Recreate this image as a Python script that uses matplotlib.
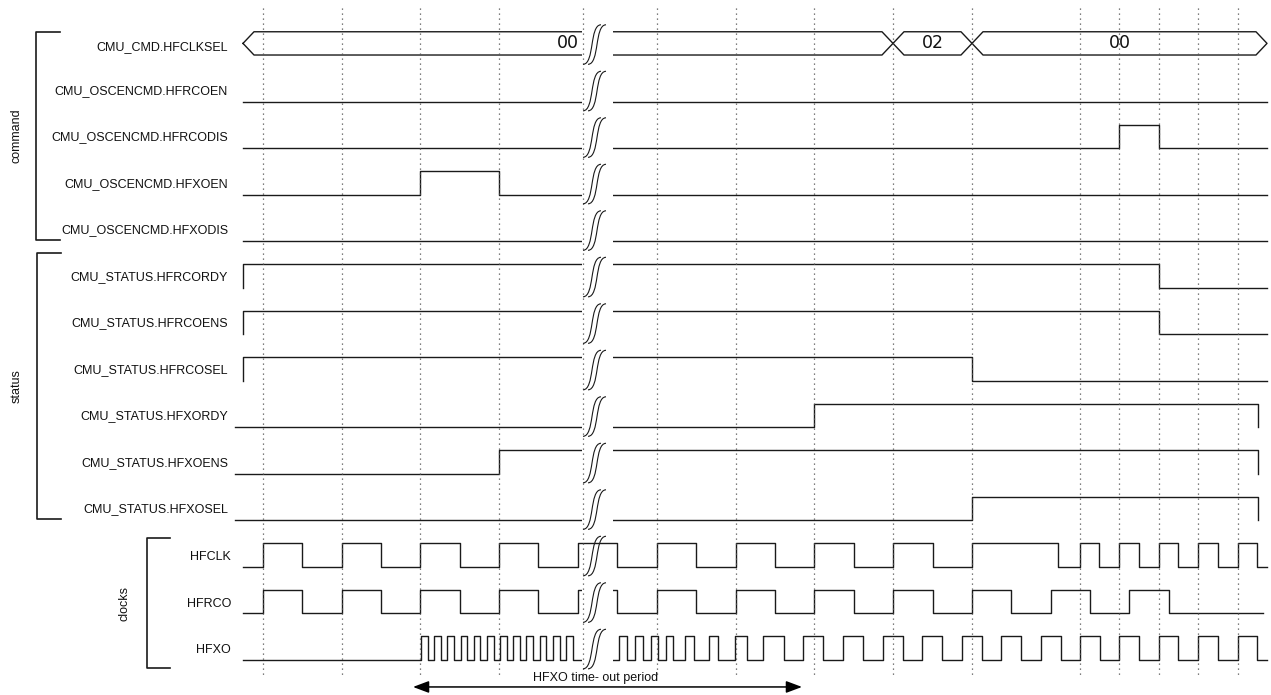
import matplotlib.pyplot as plt
from matplotlib.path import Path
from matplotlib.patches import PathPatch, Rectangle

# ---- data (x = time position, rows top to bottom) ----
bus_label = 'CMU_CMD.HFCLKSEL'
bus_edges = [243, 893, 972, 1267]
bus_values = ['00', '02', '00']

cmd_labels = ['CMU_OSCENCMD.HFRCOEN', 'CMU_OSCENCMD.HFRCODIS',
              'CMU_OSCENCMD.HFXOEN', 'CMU_OSCENCMD.HFXODIS']
cmd_t = [[243, 1267], [243, 1119, 1159, 1267], [243, 420, 499, 1267], [243, 1267]]
cmd_v = [[0, 0], [0, 1, 0, 0], [0, 1, 0, 0], [0, 0]]

status_labels = ['CMU_STATUS.HFRCORDY', 'CMU_STATUS.HFRCOENS', 'CMU_STATUS.HFRCOSEL',
                 'CMU_STATUS.HFXORDY', 'CMU_STATUS.HFXOENS', 'CMU_STATUS.HFXOSEL']
status_t = [[243, 243, 1159, 1267], [243, 243, 1159, 1267], [243, 243, 972, 1267],
            [235, 814, 1258, 1258], [235, 499, 1258, 1258], [235, 972, 1258, 1258]]
status_v = [[0, 1, 0, 0], [0, 1, 0, 0], [0, 1, 0, 0],
            [0, 1, 0, 0], [0, 1, 0, 0], [0, 1, 0, 0]]

clock_labels = ['HFCLK', 'HFRCO', 'HFXO']
hfclk_rise = [263, 342, 420, 499, 578, 657, 736, 814, 893, 972, 1080, 1119, 1159, 1198, 1238]
hfclk_fall = [302, 381, 460, 538, 617, 696, 775, 854, 933, 1058, 1099, 1139, 1178, 1218, 1257]
hfrco_rise = [263, 342, 420, 499, 578, 657, 736, 814, 893, 972, 1051, 1129]
hfrco_fall = [302, 381, 460, 538, 617, 696, 775, 854, 933, 1011, 1090, 1169]
hfxo_rise = [421, 434, 447, 461, 474, 487, 500, 513, 526, 540, 553, 566,
             619, 635, 651, 666, 685, 709, 735, 763, 803, 843, 883, 922, 962,
             1001, 1041, 1080, 1119, 1159, 1198, 1238]
hfxo_fall = [428, 441, 454, 467, 480, 494, 507, 520, 533, 546, 560, 573,
             627, 643, 658, 673, 694, 718, 747, 784, 823, 863, 903, 942, 982,
             1021, 1061, 1100, 1139, 1178, 1218, 1257]
clock_start = [243, 243, 243]
clock_end = [1267, 1263, 1267]

grid_x = [263, 342, 420, 499, 583, 657, 736, 814, 893, 972, 1080, 1119, 1159, 1198, 1238]
gap = (582, 613)
timeout = (413, 802)

# ---- figure ----
fig = plt.figure(figsize=(12.71, 6.95), dpi=100)
ax = fig.add_axes([0, 0, 1, 1])
ax.set_xlim(0, 1271)
ax.set_ylim(13.763, -1.183)
ax.axis('off')

lc = '#1a1a1a'
lw = 1.0
lab_font = dict(family='Liberation Sans', size=9, color='#111111')


def clock_wave(start, rises, falls, end):
    edges = sorted([(r, 1) for r in rises] + [(f, 0) for f in falls])
    t = [start] + [e[0] for e in edges] + [end]
    v = [0] + [e[1] for e in edges] + [edges[-1][1]]
    return t, v


# bus row
k = 0
for i, val in enumerate(bus_values):
    e0, e1 = bus_edges[i], bus_edges[i + 1]
    d = 11
    xs = [e0, e0 + d, e1 - d, e1, e1 - d, e0 + d, e0]
    ys = [k - 0.25, k - 0.5, k - 0.5, k - 0.25, k, k, k - 0.25]
    ax.plot(xs, ys, color=lc, lw=lw)
    if e0 < gap[0] < e1:
        ax.text(gap[0] - 3, k - 0.25, val, ha='right', va='center', fontsize=12.5, color='#111111')
    else:
        ax.text((e0 + e1) / 2, k - 0.25, val, ha='center', va='center', fontsize=12.5, color='#111111')
ax.text(228, k - 0.17, bus_label, ha='right', va='center', **lab_font)

rows_t = cmd_t + status_t
rows_v = cmd_v + status_v
row_labels = cmd_labels + status_labels
for i, (t, v) in enumerate(zip(rows_t, rows_v)):
    k = i + 1
    ax.step(t, [k - 0.5 * a for a in v], where='post', color=lc, lw=lw)
    ax.text(228, k - 0.23, row_labels[i], ha='right', va='center', **lab_font)

clocks = [(hfclk_rise, hfclk_fall), (hfrco_rise, hfrco_fall), (hfxo_rise, hfxo_fall)]
for i, (r, f) in enumerate(clocks):
    k = 11 + i
    t, v = clock_wave(clock_start[i], r, f, clock_end[i])
    ax.step(t, [k - 0.5 * a for a in v], where='post', color=lc, lw=lw)
    ax.text(231, k - 0.2, clock_labels[i], ha='right', va='center', **lab_font)

# break gap (HFCLK drawn through)
for k in range(14):
    if k != 11:
        ax.add_patch(Rectangle((gap[0], k - 0.6), gap[1] - gap[0], 0.7,
                               facecolor='white', edgecolor='none', zorder=3))

# dotted time grid
ax.vlines(grid_x, -1.01, 13.38, colors='#555555', linestyles=(0, (1, 3)), lw=0.9, zorder=4)

# break symbols
for k in range(14):
    yb, yt = k + 0.2, k - 0.65
    for off in (0, 5):
        x0, x1 = 583 + off, 601 + off
        w = x1 - x0
        p = Path([(x0, yb), (x0 + w * 0.65, yb), (x0 + w * 0.35, yt), (x1, yt)],
                 [Path.MOVETO, Path.CURVE4, Path.CURVE4, Path.CURVE4])
        ax.add_patch(PathPatch(p, fill=False, edgecolor=lc, lw=0.8, zorder=5))

# group brackets
groups = [('command', -0.495, 3.98, 36, 60, 17), ('status', 4.26, 9.98, 37, 61, 17),
          ('clocks', 10.39, 13.18, 147, 170, 124)]
for name, y0, y1, xb, xt, xl in groups:
    ax.plot([xt, xb, xb, xt], [y0, y0, y1, y1], color=lc, lw=1.2)
    ax.text(xl, (y0 + y1) / 2, name, rotation=90, ha='center', va='center', **lab_font)

# time-out arrow
ax.annotate('', xy=(timeout[1], 13.59), xytext=(timeout[0], 13.59),
            arrowprops=dict(arrowstyle='<|-|>,head_length=0.8,head_width=0.3',
                            color='black', lw=1.1, shrinkA=0, shrinkB=0, mutation_scale=12))
ax.text(596, 13.40, 'HFXO time- out period', ha='center', va='center', **lab_font)

fig.savefig('out.png', dpi=100)
